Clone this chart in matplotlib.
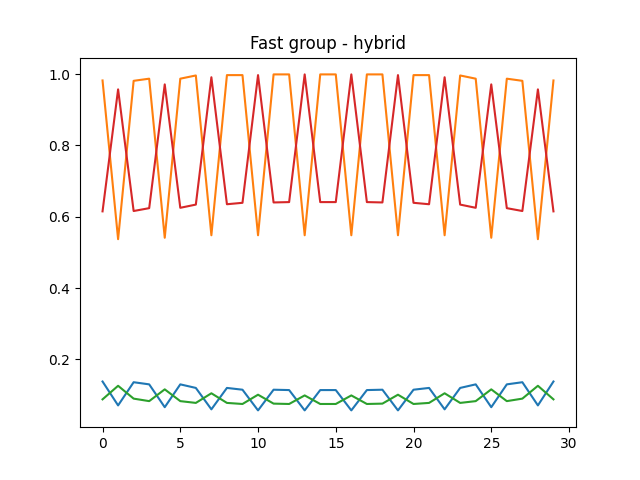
import numpy as np
import matplotlib
matplotlib.use('Agg')
import matplotlib.pyplot as plt

# first half (index 0..14); the second half mirrors it
blue_half = [0.138, 0.071, 0.136, 0.130, 0.066, 0.130, 0.120, 0.060, 0.120, 0.115,
             0.057, 0.115, 0.114, 0.057, 0.114]
orange_half = [0.982, 0.537, 0.981, 0.987, 0.541, 0.987, 0.996, 0.548, 0.997, 0.997,
               0.548, 0.999, 0.999, 0.548, 0.999]
green_half = [0.088, 0.126, 0.090, 0.083, 0.116, 0.083, 0.078, 0.105, 0.078, 0.075,
              0.101, 0.076, 0.075, 0.099, 0.075]
red_half = [0.615, 0.957, 0.616, 0.624, 0.971, 0.625, 0.634, 0.991, 0.635, 0.639,
            0.997, 0.640, 0.641, 0.999, 0.641]

blue = blue_half + blue_half[::-1]
orange = orange_half + orange_half[::-1]
green = green_half + green_half[::-1]
red = red_half + red_half[::-1]

fig, ax = plt.subplots(figsize=(6.4, 4.8), dpi=100)
ax.plot(blue)
ax.plot(orange)
ax.plot(green)
ax.plot(red)
ax.set_title('Fast group - hybrid')
plt.savefig('out.png')
